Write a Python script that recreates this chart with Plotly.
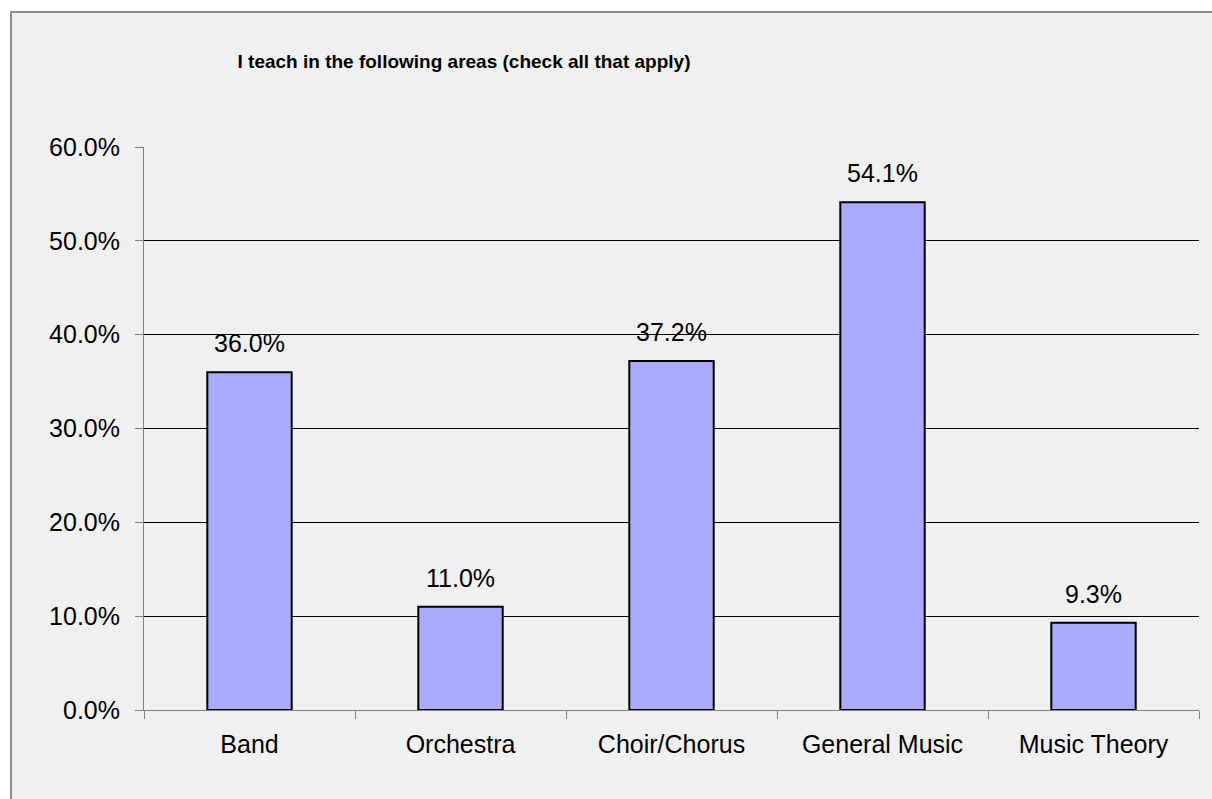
import plotly.graph_objects as go

categories = ["Band", "Orchestra", "Choir/Chorus", "General Music", "Music Theory"]
values = [0.360, 0.110, 0.372, 0.541, 0.093]
title_text = "I teach in the following areas (check all that apply)"

W, H = 1212, 799
L, R, T, B = 144, 13, 147, 89

fig = go.Figure()
fig.add_trace(go.Bar(
    x=categories, y=values,
    marker=dict(color="#AAAAFF", line=dict(color="#000000", width=2)),
    hoverinfo="skip",
))

for c, v in zip(categories, values):
    fig.add_annotation(x=c, y=v, text=f"{v*100:.1f}%", showarrow=False,
                       yanchor="bottom", yshift=13,
                       font=dict(family="Liberation Sans, Arial", size=25, color="#000000"))

# chart area frame (extends past the window bottom/right)
fig.add_shape(type="rect", xref="paper", yref="paper", layer="below",
              x0=(11 - L) / (W - L - R), x1=(W + 20 - L) / (W - L - R),
              y0=(H - B - (H + 20)) / (H - T - B), y1=(H - B - 12) / (H - T - B),
              fillcolor="#F0F0F0", line=dict(color="#8C8C8C", width=2))

fig.update_layout(
    width=W, height=H,
    margin=dict(l=L, r=R, t=T, b=B),
    paper_bgcolor="#FFFFFF", plot_bgcolor="rgba(0,0,0,0)",
    bargap=0.6, showlegend=False,
    font=dict(family="Liberation Sans, Arial", size=25, color="#000000"),
    title=dict(text=title_text, x=464 / W, xanchor="center", y=1 - 61 / H, yanchor="middle",
               font=dict(family="Liberation Sans, Arial", size=19, color="#000000",
                         weight="bold")),
    xaxis=dict(type="category", showgrid=False, showline=True, linecolor="#808080", linewidth=1,
               ticks="outside", tickson="boundaries", ticklen=8, tickcolor="#808080",
               tickfont=dict(size=25), ticklabelstandoff=12, fixedrange=True),
    yaxis=dict(range=[0, 0.6], dtick=0.1, tickformat=".1%", showgrid=True, gridcolor="#000000",
               gridwidth=1, showline=True, linecolor="#808080", linewidth=1, zeroline=False,
               ticks="outside", ticklen=8, tickcolor="#808080", tickfont=dict(size=25),
               ticklabelstandoff=10, fixedrange=True),
)

fig.write_html("out.html")
